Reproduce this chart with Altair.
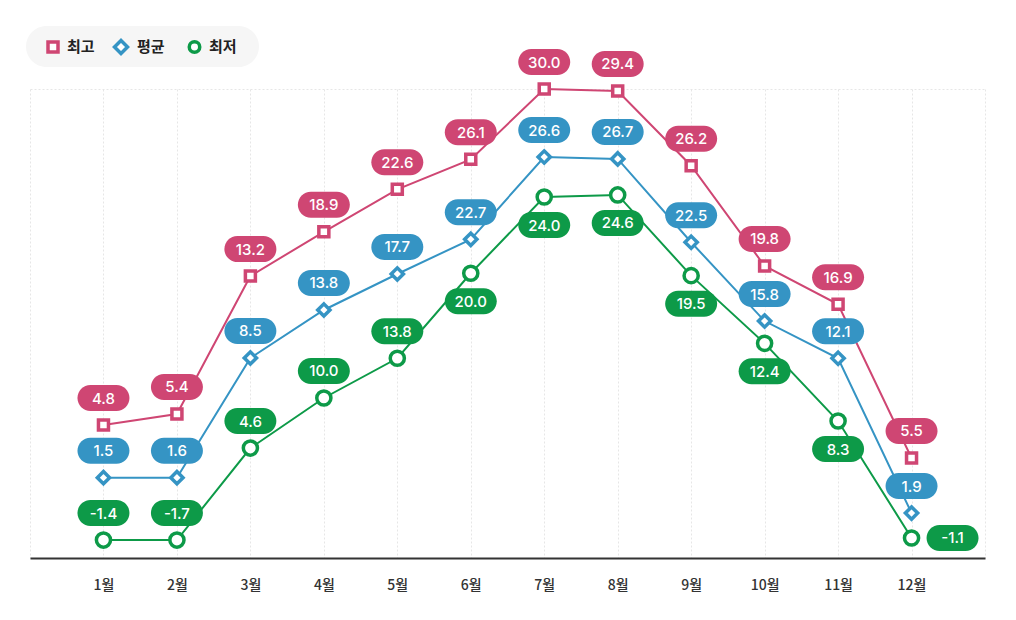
import altair as alt
import pandas as pd

months = list(range(1, 13))
series_names = ["최고", "평균", "최저"]
series_colors = ["#cf4673", "#3594c4", "#0d9a48"]
series_shapes = ["square", "diamond", "circle"]
series_sizes = [100, 200, 100]

high = [5.64, 6.44, 16.44, 19.65, 22.73, 24.90, 30.0, 29.86, 24.44, 17.17, 14.39, 3.25]
avg = [1.82, 1.82, 10.50, 13.98, 16.59, 19.10, 25.07, 24.93, 18.89, 13.18, 10.48, -0.74]
low = [-2.70, -2.70, 3.97, 7.60, 10.48, 16.64, 22.17, 22.32, 16.47, 11.56, 5.93, -2.55]

high_labels = ["4.8", "5.4", "13.2", "18.9", "22.6", "26.1", "30.0", "29.4", "26.2", "19.8", "16.9", "5.5"]
avg_labels = ["1.5", "1.6", "8.5", "13.8", "17.7", "22.7", "26.6", "26.7", "22.5", "15.8", "12.1", "1.9"]
low_labels = ["-1.4", "-1.7", "4.6", "10.0", "13.8", "20.0", "24.0", "24.6", "19.5", "12.4", "8.3", "-1.1"]

high_pos = ["above"] * 12
avg_pos = ["above"] * 12
low_pos = ["above"] * 5 + ["below"] * 6 + ["right"]

rows = []
for name, vals, labs, poss in zip(series_names, [high, avg, low],
                                  [high_labels, avg_labels, low_labels],
                                  [high_pos, avg_pos, low_pos]):
    for m, v, l, p in zip(months, vals, labs, poss):
        rows.append({"m": m, "series": name, "v": v, "label": l, "pos": p})
df = pd.DataFrame(rows)

PILL = ("M -0.5 -0.5 L 0.5 -0.5 C 0.7761 -0.5 1 -0.2761 1 0 "
        "C 1 0.2761 0.7761 0.5 0.5 0.5 L -0.5 0.5 "
        "C -0.7761 0.5 -1 0.2761 -1 0 C -1 -0.2761 -0.7761 -0.5 -0.5 -0.5 Z")

x_enc = alt.X(
    "m:Q",
    scale=alt.Scale(domain=[0, 13], nice=False, zero=False),
    axis=alt.Axis(
        values=list(range(0, 14)),
        grid=True, gridColor="#e6e6e6", gridDash=[2, 2], gridWidth=1,
        ticks=False, domain=True, domainColor="#333333", domainWidth=2,
        labelExpr="datum.value >= 1 && datum.value <= 12 ? datum.value + '월' : ''",
        labelFontSize=14, labelColor="#333333", labelPadding=20,
        labelFont="Noto Sans CJK KR", labelFontWeight=500,
        title=None,
    ),
)
y_enc = alt.Y(
    "v:Q",
    scale=alt.Scale(domain=[-4, 30], nice=False, zero=False),
    axis=alt.Axis(values=[30], grid=True, gridColor="#e6e6e6", gridDash=[2, 2],
                  labels=False, ticks=False, domain=False, title=None),
)
color_scale = alt.Scale(domain=series_names, range=series_colors)

base = alt.Chart(df)

lines = base.mark_line(strokeWidth=2).encode(
    x=x_enc, y=y_enc,
    color=alt.Color("series:N", scale=color_scale, legend=None),
)

points = base.mark_point(filled=True, fill="white", strokeWidth=3.5, opacity=1).encode(
    x=x_enc, y=y_enc,
    stroke=alt.Stroke("series:N", scale=color_scale, legend=None),
    shape=alt.Shape("series:N", scale=alt.Scale(domain=series_names, range=series_shapes), legend=None),
    size=alt.Size("series:N", scale=alt.Scale(domain=series_names, range=series_sizes), legend=None),
)

label_layers = []
for pos, dx, dy in [("above", 0, -27), ("below", 0, 28), ("right", 41, 0)]:
    f = base.transform_filter(alt.datum.pos == pos)
    pill = f.mark_point(shape=PILL, size=2704, filled=True, opacity=1, strokeWidth=0,
                        xOffset=dx, yOffset=dy).encode(
        x=x_enc, y=y_enc,
        color=alt.Color("series:N", scale=color_scale, legend=None),
    )
    txt = f.mark_text(color="white", font="Inter", fontSize=15, fontWeight=500,
                      align="center", baseline="middle", xOffset=dx, yOffset=dy + 0.5).encode(
        x=x_enc, y=y_enc, text="label:N",
    )
    label_layers += [pill, txt]

one = pd.DataFrame({"a": [0]})
leg_bg = alt.Chart(one).mark_rect(cornerRadius=20.5, color="#f6f6f6").encode(
    x=alt.value(-4), x2=alt.value(229), y=alt.value(-63), y2=alt.value(-22)
)
leg_sq = alt.Chart(one).mark_point(shape="square", size=100, filled=True, fill="white",
                                   stroke=series_colors[0], strokeWidth=3.5, opacity=1).encode(
    x=alt.value(23), y=alt.value(-42))
leg_di = alt.Chart(one).mark_point(shape="diamond", size=169, filled=True, fill="white",
                                   stroke=series_colors[1], strokeWidth=3.5, opacity=1).encode(
    x=alt.value(91), y=alt.value(-42))
leg_ci = alt.Chart(one).mark_point(shape="circle", size=110, filled=True, fill="white",
                                   stroke=series_colors[2], strokeWidth=3.5, opacity=1).encode(
    x=alt.value(164.5), y=alt.value(-42))
leg_layers = [leg_bg, leg_sq, leg_di, leg_ci]
for name, lx in zip(series_names, [37, 107, 179]):
    leg_layers.append(
        alt.Chart(pd.DataFrame({"t": [name]})).mark_text(
            align="left", baseline="middle", font="Noto Sans CJK KR", fontSize=15,
            fontWeight="bold", color="#222222").encode(
            x=alt.value(lx), y=alt.value(-42), text="t:N")
    )

chart = alt.layer(lines, points, *label_layers, *leg_layers).properties(
    width=955, height=469,
    autosize=alt.AutoSizeParams(type="none"),
    padding={"left": 22, "top": 81, "right": 23, "bottom": 54},
).configure_view(stroke=None)

chart.save("out.html", embed_options={"renderer": "svg", "actions": False})
